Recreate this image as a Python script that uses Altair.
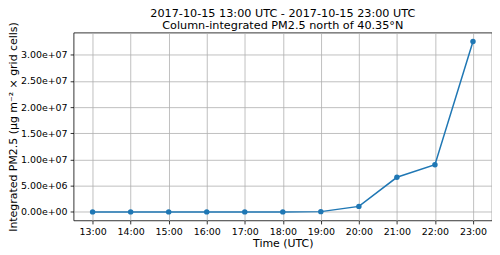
import altair as alt
import pandas as pd

times = ["13:00", "14:00", "15:00", "16:00", "17:00", "18:00",
         "19:00", "20:00", "21:00", "22:00", "23:00"]
values = [0.0, 0.0, 0.0, 0.0, 0.0, 0.0, 5.0e4, 1.05e6, 6.6e6, 9.0e6, 3.25e7]
y_ticks = [0, 5e6, 1e7, 1.5e7, 2e7, 2.5e7, 3e7]
title_lines = ["2017-10-15 13:00 UTC - 2017-10-15 23:00 UTC",
               "Column-integrated PM2.5 north of 40.35°N"]

df = pd.DataFrame({"time": times, "value": values})

FONT = "DejaVu Sans"
BLUE = "#1f77b4"

x = alt.X("time:N", sort=times,
          scale=alt.Scale(type="point", padding=0.5),
          axis=alt.Axis(title="Time (UTC)", labelAngle=0, labelFontSize=9.5,
                        labelColor="black", labelFont=FONT,
                        titleFont=FONT, titleFontSize=11, titleFontWeight="normal",
                        titleColor="black", titleBaseline="alphabetic",
                        titleY=26.5, tickSize=3.5, tickColor="black", tickWidth=0.8,
                        labelPadding=2.5, domain=False, grid=True,
                        gridColor="#b0b0b0", gridWidth=0.8))
y = alt.Y("value:Q",
          scale=alt.Scale(domain=[-1.63e6, 3.42e7], nice=False, zero=False),
          axis=alt.Axis(title="Integrated PM2.5 (μg m⁻² × grid cells)",
                        values=y_ticks,
                        labelExpr="replace(format(datum.value, '.2e'), 'e+', 'e+0')",
                        labelFontSize=9.5, labelColor="black", labelFont=FONT,
                        titleFont=FONT, titleFontSize=11, titleFontWeight="normal",
                        titleColor="black", titleX=-55, titleBaseline="bottom",
                        tickSize=3.5, tickColor="black", tickWidth=0.8,
                        labelPadding=3, domain=False, grid=True,
                        gridColor="#b0b0b0", gridWidth=0.8))

line = alt.Chart(df).mark_line(color=BLUE, strokeWidth=1.5).encode(x=x, y=y)
pts = alt.Chart(df).mark_circle(color=BLUE, size=30, opacity=1).encode(x=x, y=y)

chart = (line + pts).properties(
    width=421, height=189,
    title=alt.TitleParams(title_lines, font=FONT, fontSize=11.3, fontWeight="normal",
                          color="black", anchor="middle", lineHeight=12,
                          offset=4, dy=14),
    autosize=alt.AutoSizeParams(type="none"),
    padding={"left": 66, "top": 24, "right": 0, "bottom": 30},
).configure_view(stroke="black", strokeWidth=0.8)

chart.save("out.html", embed_options={"renderer": "svg", "actions": False})
